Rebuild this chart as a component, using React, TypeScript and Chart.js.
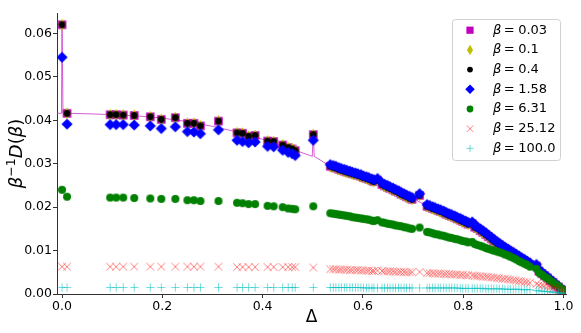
import React, { useEffect, useRef } from "react";
import { Chart, registerables } from "chart.js";

Chart.register(...registerables);

// ---------- data ----------
const betaLabels = ["0.03", "0.1", "0.4", "1.58", "6.31", "25.12", "100.0"];
const xTickValues = [0, 0.2, 0.4, 0.6, 0.8, 1.0];
const yTickValues = [0, 0.01, 0.02, 0.03, 0.04, 0.05, 0.06];
const xTitle = "Δ";
const yTitleParts = [
  { t: "β", italic: true, sup: false },
  { t: "−1", italic: false, sup: true },
  { t: "D", italic: true, sup: false },
  { t: "(", italic: false, sup: false },
  { t: "β", italic: true, sup: false },
  { t: ")", italic: false, sup: false },
];

// Δ values of the isolated points (Δ < 0.52)
const deltaSparse = [0, 0.01, 0.096, 0.108, 0.122, 0.144, 0.176, 0.198, 0.226, 0.25, 0.263, 0.276, 0.312,
  0.349, 0.36, 0.372, 0.385, 0.41, 0.422, 0.44, 0.451, 0.459, 0.465, 0.501];

// Δ values of the dense runs (Δ > 0.53)
const deltaDense = [0.535, 0.541, 0.546, 0.552, 0.557, 0.563, 0.568, 0.574, 0.579, 0.585, 0.59, 0.596, 0.601,
  0.607, 0.612, 0.618, 0.622, 0.629, 0.638, 0.643, 0.649, 0.654, 0.66, 0.665, 0.671, 0.676, 0.682, 0.687, 0.693,
  0.698, 0.713,
  0.728, 0.733, 0.739, 0.744, 0.75, 0.755, 0.761, 0.766, 0.772, 0.777, 0.783, 0.788, 0.794, 0.799, 0.805, 0.81,
  0.818, 0.823, 0.828, 0.834, 0.839, 0.845, 0.85, 0.856, 0.861, 0.867, 0.872, 0.878, 0.883, 0.889, 0.894, 0.9,
  0.905, 0.911, 0.916, 0.922, 0.927, 0.933, 0.946, 0.951, 0.957, 0.962, 0.968, 0.973, 0.979, 0.984, 0.99, 0.995,
  1.0];

// β = 0.03, 0.1, 0.4 (these three coincide in the picture)
const lowBetaSparse = [0.062, 0.0416, 0.0413, 0.0413, 0.0412, 0.0411, 0.0408, 0.0402, 0.0406, 0.0393, 0.0393,
  0.0387, 0.0398, 0.0371, 0.037, 0.0363, 0.0365, 0.0352, 0.0351, 0.0343, 0.0337, 0.0334, 0.033, 0.0367];
const lowBetaDense = [0.0294, 0.0292, 0.029, 0.0287, 0.0285, 0.0283, 0.0281, 0.0279, 0.0277, 0.0275, 0.0273,
  0.0271, 0.0268, 0.0266, 0.0264, 0.0261, 0.0259, 0.0262, 0.0252, 0.0249, 0.0246, 0.0243, 0.024, 0.0237, 0.0234,
  0.023, 0.0227, 0.0224, 0.0221, 0.0218, 0.0227,
  0.0202, 0.02, 0.0197, 0.0195, 0.0192, 0.019, 0.0187, 0.0184, 0.0181, 0.0179, 0.0176, 0.0173, 0.017, 0.0167,
  0.0164, 0.0161, 0.0162, 0.0154, 0.0151, 0.0146, 0.0142, 0.0137, 0.0132, 0.0127, 0.0122, 0.0117, 0.0113, 0.0108,
  0.0104, 0.01, 0.0096, 0.0092, 0.0088, 0.0084, 0.008, 0.0076, 0.0072, 0.0068, 0.0064, 0.0053, 0.0047, 0.0042,
  0.0037, 0.0031, 0.0027, 0.0021, 0.0016, 0.001, 0.0008];

// β = 1.58
const beta158Sparse = [0.0545, 0.0391, 0.039, 0.039, 0.039, 0.0389, 0.0387, 0.0381, 0.0385, 0.0374, 0.0373,
  0.0369, 0.0378, 0.0354, 0.0351, 0.0348, 0.035, 0.034, 0.0339, 0.0331, 0.0326, 0.0323, 0.0319, 0.0354];
const beta158Dense = [0.0298, 0.0296, 0.0294, 0.0291, 0.0289, 0.0287, 0.0285, 0.0283, 0.0281, 0.0279, 0.0277,
  0.0275, 0.0272, 0.027, 0.0268, 0.0265, 0.0263, 0.0266, 0.0256, 0.0253, 0.025, 0.0247, 0.0244, 0.0241, 0.0238,
  0.0234, 0.0231, 0.0228, 0.0225, 0.0222, 0.0231,
  0.0206, 0.0204, 0.0201, 0.0199, 0.0196, 0.0194, 0.0191, 0.0188, 0.0185, 0.0183, 0.018, 0.0177, 0.0174, 0.0171,
  0.0168, 0.0165, 0.0166, 0.0158, 0.0155, 0.015, 0.0146, 0.0141, 0.0136, 0.0131, 0.0126, 0.0121, 0.0117, 0.0112,
  0.0108, 0.0104, 0.01, 0.0096, 0.0092, 0.0088, 0.0084, 0.008, 0.0076, 0.0072, 0.0068, 0.0056, 0.005, 0.0045,
  0.004, 0.0034, 0.0029, 0.0023, 0.0018, 0.0012, 0.0009];

// β = 6.31
const beta631Sparse = [0.024, 0.0224, 0.0222, 0.0222, 0.0222, 0.0221, 0.022, 0.0219, 0.0219, 0.0216, 0.0216,
  0.0214, 0.0214, 0.021, 0.0209, 0.0207, 0.0207, 0.0203, 0.0202, 0.02, 0.0197, 0.0196, 0.0195, 0.0202];
const beta631Dense = [0.0186, 0.0185, 0.0184, 0.0183, 0.0182, 0.0181, 0.018, 0.0179, 0.0177, 0.0176, 0.0175,
  0.0174, 0.0173, 0.0172, 0.0171, 0.0169, 0.0168, 0.017, 0.0165, 0.0164, 0.0162, 0.0161, 0.016, 0.0158, 0.0157,
  0.0156, 0.0154, 0.0153, 0.0151, 0.015, 0.0153,
  0.0143, 0.0142, 0.014, 0.0138, 0.0137, 0.0135, 0.0134, 0.0132, 0.013, 0.0129, 0.0127, 0.0126, 0.0124, 0.0122,
  0.0121, 0.0119, 0.012, 0.0115, 0.0113, 0.0111, 0.0109, 0.0106, 0.0104, 0.0102, 0.01, 0.0098, 0.0096, 0.0094,
  0.0091, 0.0089, 0.0086, 0.0083, 0.008, 0.0076, 0.0073, 0.007, 0.0067, 0.0063, 0.0058, 0.0049, 0.0045, 0.004,
  0.0036, 0.0031, 0.0027, 0.0022, 0.0018, 0.0013, 0.0009];

// β = 25.12
const beta2512Sparse = [0.0063, 0.0063, 0.0063, 0.0063, 0.0063, 0.0063, 0.0063, 0.0063, 0.0063, 0.0063, 0.0063,
  0.0063, 0.0063, 0.0062, 0.0062, 0.0062, 0.0062, 0.0062, 0.0062, 0.0062, 0.0062, 0.0062, 0.0062, 0.0061];
const beta2512Dense = [0.0057, 0.0057, 0.0057, 0.0056, 0.0056, 0.0056, 0.0056, 0.0055, 0.0055, 0.0055, 0.0055,
  0.0054, 0.0054, 0.0054, 0.0054, 0.0053, 0.0053, 0.0054, 0.0053, 0.0052, 0.0052, 0.0052, 0.0052, 0.0051, 0.0051,
  0.0051, 0.0051, 0.005, 0.005, 0.005, 0.0051,
  0.0048, 0.0048, 0.0048, 0.0047, 0.0047, 0.0047, 0.0046, 0.0046, 0.0046, 0.0045, 0.0045, 0.0045, 0.0044, 0.0044,
  0.0043, 0.0043, 0.0043, 0.0042, 0.0041, 0.0041, 0.004, 0.004, 0.0039, 0.0038, 0.0038, 0.0037, 0.0036, 0.0035,
  0.0035, 0.0034, 0.0033, 0.0032, 0.0031, 0.003, 0.0029, 0.0028, 0.0027, 0.0026, 0.0023, 0.0021, 0.002, 0.0018,
  0.0017, 0.0015, 0.0013, 0.0012, 0.001, 0.0008, 0.0006];

// β = 100.0
const beta100Sparse = [0.0015, 0.0015, 0.0015, 0.0015, 0.0015, 0.0015, 0.0015, 0.0015, 0.0015, 0.0015, 0.0015,
  0.0015, 0.0015, 0.0015, 0.0015, 0.0015, 0.0015, 0.0015, 0.0015, 0.0015, 0.0015, 0.0015, 0.0015, 0.0015];
const beta100Dense = [0.0015, 0.0015, 0.0015, 0.0015, 0.0015, 0.0015, 0.0015, 0.0015, 0.0015, 0.0015, 0.0015,
  0.0015, 0.0014, 0.0014, 0.0014, 0.0014, 0.0014, 0.0014, 0.0014, 0.0014, 0.0014, 0.0014, 0.0014, 0.0014, 0.0014,
  0.0014, 0.0014, 0.0014, 0.0014, 0.0014, 0.0014,
  0.0014, 0.0014, 0.0014, 0.0014, 0.0014, 0.0014, 0.0014, 0.0014, 0.0014, 0.0014, 0.0014, 0.0014, 0.0013, 0.0013,
  0.0013, 0.0013, 0.0013, 0.0013, 0.0013, 0.0013, 0.0013, 0.0012, 0.0012, 0.0012, 0.0012, 0.0012, 0.0012, 0.0012,
  0.0011, 0.0011, 0.0011, 0.0011, 0.0011, 0.0011, 0.001, 0.001, 0.001, 0.001, 0.0008, 0.0007, 0.0007, 0.0006,
  0.0006, 0.0005, 0.0004, 0.0004, 0.0003, 0.0002, 0.0002];

// thin magenta guide curve
const curveDelta = [-0.02, -0.001, 0, 0.002, 0.01, 0.05, 0.1, 0.15, 0.2, 0.25, 0.3, 0.35, 0.4, 0.45, 0.499, 0.501,
  0.503, 0.535, 0.58, 0.62, 0.623, 0.626, 0.66, 0.706, 0.707, 0.709, 0.75, 0.8, 0.85, 0.9, 0.95, 1.0];
const curveValue = [0.0416, 0.0416, 0.062, 0.0416, 0.0416, 0.0415, 0.0413, 0.041, 0.0405, 0.0397, 0.0386, 0.0373,
  0.0356, 0.0337, 0.0317, 0.0367, 0.0317, 0.0294, 0.0278, 0.026, 0.0263, 0.0258, 0.024, 0.0216, 0.0228, 0.0214,
  0.0192, 0.0167, 0.0132, 0.0092, 0.0052, 0.0006];

// ---------- helpers ----------
const deltaAll = [...deltaSparse, ...deltaDense];
const toPoints = (sparse: number[], dense: number[]) =>
  [...sparse, ...dense].map((y, i) => ({ x: deltaAll[i], y }));

type Marker = { kind: string; color: string; size: number; lw?: number };
const markers: Marker[] = [
  { kind: "square", color: "#bf00bf", size: 8.5 },
  { kind: "thinDiamond", color: "#bfbf00", size: 12 },
  { kind: "circle", color: "#000000", size: 3.4 },
  { kind: "diamond", color: "#0000ff", size: 5.6 },
  { kind: "circle", color: "#008000", size: 4 },
  { kind: "x", color: "rgba(255,0,0,0.5)", size: 3.8, lw: 1 },
  { kind: "plus", color: "rgba(0,191,191,0.55)", size: 4.2, lw: 1 },
];

function drawMarker(ctx: CanvasRenderingContext2D, m: Marker, x: number, y: number, scale = 1) {
  const s = m.size * scale;
  ctx.save();
  ctx.fillStyle = m.color;
  ctx.strokeStyle = m.color;
  ctx.lineWidth = m.lw || 1;
  ctx.beginPath();
  if (m.kind === "square") {
    ctx.rect(x - s / 2, y - s / 2, s, s);
    ctx.fill();
  } else if (m.kind === "thinDiamond") {
    ctx.moveTo(x, y - s / 2);
    ctx.lineTo(x + s * 0.3, y);
    ctx.lineTo(x, y + s / 2);
    ctx.lineTo(x - s * 0.3, y);
    ctx.closePath();
    ctx.fill();
  } else if (m.kind === "circle") {
    ctx.arc(x, y, s, 0, Math.PI * 2);
    ctx.fill();
  } else if (m.kind === "diamond") {
    ctx.moveTo(x, y - s);
    ctx.lineTo(x + s, y);
    ctx.lineTo(x, y + s);
    ctx.lineTo(x - s, y);
    ctx.closePath();
    ctx.fill();
  } else if (m.kind === "x") {
    ctx.moveTo(x - s, y - s);
    ctx.lineTo(x + s, y + s);
    ctx.moveTo(x + s, y - s);
    ctx.lineTo(x - s, y + s);
    ctx.stroke();
  } else if (m.kind === "plus") {
    ctx.moveTo(x - s, y);
    ctx.lineTo(x + s, y);
    ctx.moveTo(x, y - s);
    ctx.lineTo(x, y + s);
    ctx.stroke();
  }
  ctx.restore();
}

function markerImage(m: Marker) {
  const c = document.createElement("canvas");
  const w = Math.ceil(m.size * 2.4) + 2;
  c.width = w;
  c.height = w;
  const ctx = c.getContext("2d")!;
  drawMarker(ctx, m, w / 2, w / 2);
  return c;
}

const legendPlugin = {
  id: "betaLegend",
  afterDraw(chart: any) {
    const ctx: CanvasRenderingContext2D = chart.ctx;
    const ca = chart.chartArea;
    const w = 108;
    const h = 141;
    const right = ca.right - 5.5;
    const left = right - w;
    const top = ca.top + 6.5;
    const r = 3;
    ctx.save();
    ctx.beginPath();
    ctx.moveTo(left + r, top);
    ctx.lineTo(right - r, top);
    ctx.quadraticCurveTo(right, top, right, top + r);
    ctx.lineTo(right, top + h - r);
    ctx.quadraticCurveTo(right, top + h, right - r, top + h);
    ctx.lineTo(left + r, top + h);
    ctx.quadraticCurveTo(left, top + h, left, top + h - r);
    ctx.lineTo(left, top + r);
    ctx.quadraticCurveTo(left, top, left + r, top);
    ctx.closePath();
    ctx.fillStyle = "rgba(255,255,255,0.85)";
    ctx.fill();
    ctx.strokeStyle = "#d0d0d0";
    ctx.lineWidth = 1;
    ctx.stroke();
    betaLabels.forEach((lab, i) => {
      const cy = top + 10.7 + i * 19.7;
      drawMarker(ctx, markers[i], left + 17.5, cy, 0.85);
      ctx.fillStyle = "#000";
      ctx.textBaseline = "middle";
      ctx.textAlign = "left";
      let tx = left + 40.5;
      ctx.font = 'italic 13px "DejaVu Sans"';
      ctx.fillText("β", tx, cy);
      tx += ctx.measureText("β").width + 2.5;
      ctx.font = '13px "DejaVu Sans"';
      ctx.fillText("=", tx, cy);
      tx += ctx.measureText("=").width + 3.5;
      ctx.fillText(lab, tx, cy);
    });
    ctx.restore();
  },
};

// y-axis title drawn like matplotlib mathtext: β^{-1}D(β)
const yTitlePlugin = {
  id: "yTitle",
  afterDraw(chart: any) {
    const ctx: CanvasRenderingContext2D = chart.ctx;
    const ca = chart.chartArea;
    const size = 18;
    const supSize = 12.6;
    const fontOf = (p: any) =>
      (p.italic ? "italic " : "") + (p.sup ? supSize : size) + 'px "DejaVu Sans"';
    ctx.save();
    let total = 0;
    const widths = yTitleParts.map((p) => {
      ctx.font = fontOf(p);
      const w = ctx.measureText(p.t).width;
      total += w;
      return w;
    });
    ctx.translate(22, (ca.top + ca.bottom) / 2);
    ctx.rotate(-Math.PI / 2);
    ctx.fillStyle = "#000";
    ctx.textBaseline = "alphabetic";
    ctx.textAlign = "left";
    let x = -total / 2;
    yTitleParts.forEach((p, i) => {
      ctx.font = fontOf(p);
      ctx.fillText(p.t, x, p.sup ? -7.5 : 0);
      x += widths[i];
    });
    ctx.restore();
  },
};

export default function App() {
  const ref = useRef<HTMLCanvasElement>(null);
  useEffect(() => {
    const canvas = ref.current!;
    const seriesValues = [
      [lowBetaSparse, lowBetaDense],
      [lowBetaSparse, lowBetaDense],
      [lowBetaSparse, lowBetaDense],
      [beta158Sparse, beta158Dense],
      [beta631Sparse, beta631Dense],
      [beta2512Sparse, beta2512Dense],
      [beta100Sparse, beta100Dense],
    ];
    const datasets: any[] = seriesValues.map(([s, d], i) => ({
      label: "β = " + betaLabels[i],
      data: toPoints(s, d),
      showLine: false,
      pointStyle: markerImage(markers[i]),
      pointRadius: markers[i].size,
      order: 7 - i,
    }));
    datasets.push({
      label: "",
      data: curveDelta.map((x, i) => ({ x, y: curveValue[i] })),
      showLine: true,
      pointRadius: 0,
      borderColor: "rgba(200,40,200,0.75)",
      borderWidth: 1,
      order: 20,
    });
    const tickFont = { family: "DejaVu Sans", size: 12.5 };
    const chart = new Chart(canvas, {
      type: "scatter",
      data: { datasets },
      plugins: [legendPlugin, yTitlePlugin],
      options: {
        animation: false,
        responsive: false,
        devicePixelRatio: 1,
        events: [],
        layout: { padding: { top: 5, right: 15, left: 0, bottom: 0 } },
        plugins: { legend: { display: false }, tooltip: { enabled: false } },
        scales: {
          x: {
            type: "linear",
            min: -0.01,
            max: 1.005,
            afterFit: (s: any) => {
              s.height = 39;
            },
            afterBuildTicks: (s: any) => {
              s.ticks = xTickValues.map((v) => ({ value: v }));
            },
            ticks: {
              callback: (v: any) => Number(v).toFixed(1),
              font: tickFont,
              color: "#000",
              padding: 1,
              maxRotation: 0,
              autoSkip: false,
            },
            grid: { drawOnChartArea: false, drawTicks: true, tickLength: 4, color: "#333" },
            border: { display: true, color: "#333", width: 1 },
            title: {
              display: true,
              text: xTitle,
              color: "#000",
              font: { family: "DejaVu Sans", size: 17 },
              padding: { top: 0, bottom: 5 },
            },
          },
          y: {
            type: "linear",
            min: 0,
            max: 0.0647,
            afterFit: (s: any) => {
              s.width = 57;
            },
            afterBuildTicks: (s: any) => {
              s.ticks = yTickValues.map((v) => ({ value: v }));
            },
            ticks: {
              callback: (v: any) => Number(v).toFixed(2),
              font: tickFont,
              color: "#000",
              padding: 1,
              autoSkip: false,
            },
            grid: { drawOnChartArea: false, drawTicks: true, tickLength: 4, color: "#333" },
            border: { display: true, color: "#333", width: 1 },
            title: { display: false },
          },
        },
      },
    } as any);
    return () => chart.destroy();
  }, []);
  return (
    <div style={{ position: "fixed", left: 0, top: 0, width: 581, height: 333, background: "#fff" }}>
      <canvas ref={ref} width={581} height={333} style={{ display: "block", width: 581, height: 333 }} />
    </div>
  );
}
